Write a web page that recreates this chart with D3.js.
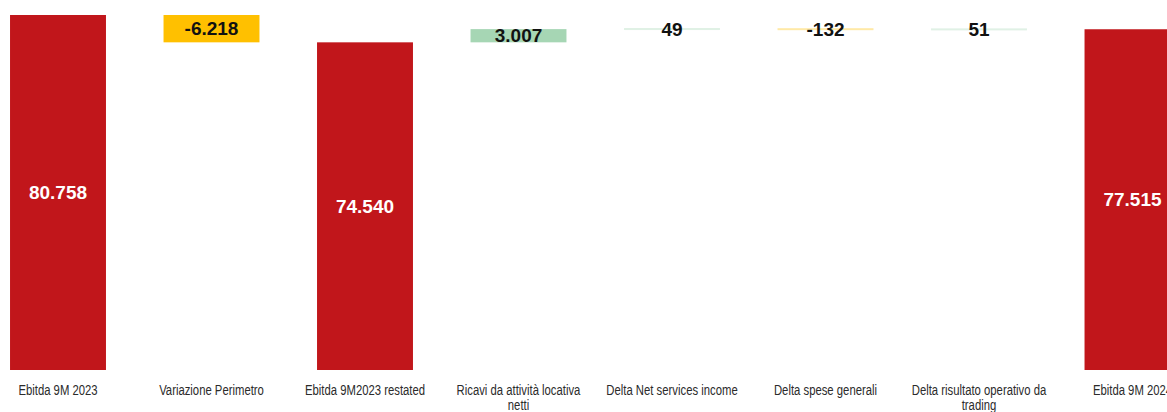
<!DOCTYPE html>
<html>
<head>
<meta charset="utf-8">
<script src="https://cdn.jsdelivr.net/npm/d3@7/dist/d3.min.js"></script>
<style>
  html, body { margin: 0; padding: 0; background: #ffffff; overflow: hidden; }
  svg { display: block; }
</style>
</head>
<body>
<svg id="chart" width="1167" height="412"></svg>
<script>
// ---- Data ----
const categories = [
  "Ebitda 9M 2023",
  "Variazione Perimetro",
  "Ebitda 9M2023 restated",
  "Ricavi da attività locativa netti",
  "Delta Net services income",
  "Delta spese generali",
  "Delta risultato operativo da trading",
  "Ebitda 9M 2024"
];
const values = [80758, -6218, 74540, 3007, 49, -132, 51, 77515];
const kinds = ["total", "delta", "total", "delta", "delta", "delta", "delta", "total"];

// ---- Styles ----
const colors = { total: "#c1161b", up: "#a6d6b4", down: "#ffc000" };

const W = 1167, H = 412;
const margin = { top: 15, bottom: 42 };
const labelScaleX = 0.78;

const itLocale = d3.formatLocale({ decimal: ",", thousands: ".", grouping: [3], currency: ["€", ""], minus: "-" });
const fmt = itLocale.format(",d");

// Build waterfall steps
let running = 0;
const steps = categories.map((c, i) => {
  const v = values[i];
  let start, end;
  if (kinds[i] === "total") { start = 0; end = v; running = v; }
  else { start = running; end = running + v; running = end; }
  return { cat: c, value: v, kind: kinds[i], start, end };
});

const x = d3.scaleBand()
  .domain(categories)
  .range([-18.75, 1209.25])
  .paddingInner(0.375)
  .paddingOuter(0.1875);

const yMax = d3.max(steps, d => Math.max(d.start, d.end));
const y = d3.scaleLinear()
  .domain([0, yMax])
  .range([H - margin.bottom, margin.top]);

const svg = d3.select("#chart");

const bars = svg.append("g").selectAll("g.bar")
  .data(steps)
  .join("g")
  .attr("class", "bar");

bars.append("rect")
  .attr("x", d => x(d.cat))
  .attr("width", x.bandwidth())
  .attr("y", d => {
    const top = y(Math.max(d.start, d.end));
    const h = Math.abs(y(d.start) - y(d.end));
    return h < 2 ? (top + h / 2 - 1) : top;
  })
  .attr("height", d => Math.max(2, Math.abs(y(d.start) - y(d.end))))
  .attr("fill", d => d.kind === "total" ? colors.total : (d.value >= 0 ? colors.up : colors.down))
  .attr("fill-opacity", d => Math.abs(y(d.start) - y(d.end)) < 2 ? 0.35 : 1);

bars.append("text")
  .attr("x", d => x(d.cat) + x.bandwidth() / 2)
  .attr("y", d => (y(d.start) + y(d.end)) / 2)
  .attr("dy", "0.35em")
  .attr("text-anchor", "middle")
  .attr("font-family", "'Liberation Sans', Arial, sans-serif")
  .attr("font-weight", "bold")
  .attr("font-size", 19)
  .attr("fill", d => d.kind === "total" ? "#ffffff" : "#111111")
  .text(d => fmt(d.value));

// ---- Category axis labels ----
const axis = d3.axisBottom(x).tickSize(0).tickPadding(0);
const axisG = svg.append("g")
  .attr("transform", `translate(0, ${H - margin.bottom})`)
  .call(axis);
axisG.select(".domain").remove();
axisG.selectAll("text")
  .attr("font-family", "'Liberation Sans', Arial, sans-serif")
  .attr("font-size", 14.5)
  .attr("fill", "#2b2b2b")
  .attr("y", 25)
  .attr("dy", 0)
  .attr("transform", `scale(${labelScaleX},1)`)
  .call(wrap, 140 / labelScaleX);

function wrap(texts, width) {
  texts.each(function() {
    const text = d3.select(this);
    const words = text.text().split(/\s+/);
    const yPos = text.attr("y");
    text.text(null);
    let line = [];
    let lineNo = 0;
    let tspan = text.append("tspan").attr("x", 0).attr("y", yPos).attr("dy", "0em");
    words.forEach(w => {
      line.push(w);
      tspan.text(line.join(" "));
      if (tspan.node().getComputedTextLength() > width && line.length > 1) {
        line.pop();
        tspan.text(line.join(" "));
        line = [w];
        lineNo++;
        tspan = text.append("tspan").attr("x", 0).attr("y", yPos)
          .attr("dy", (lineNo * 15) + "px").text(w);
      }
    });
  });
}
</script>
</body>
</html>
